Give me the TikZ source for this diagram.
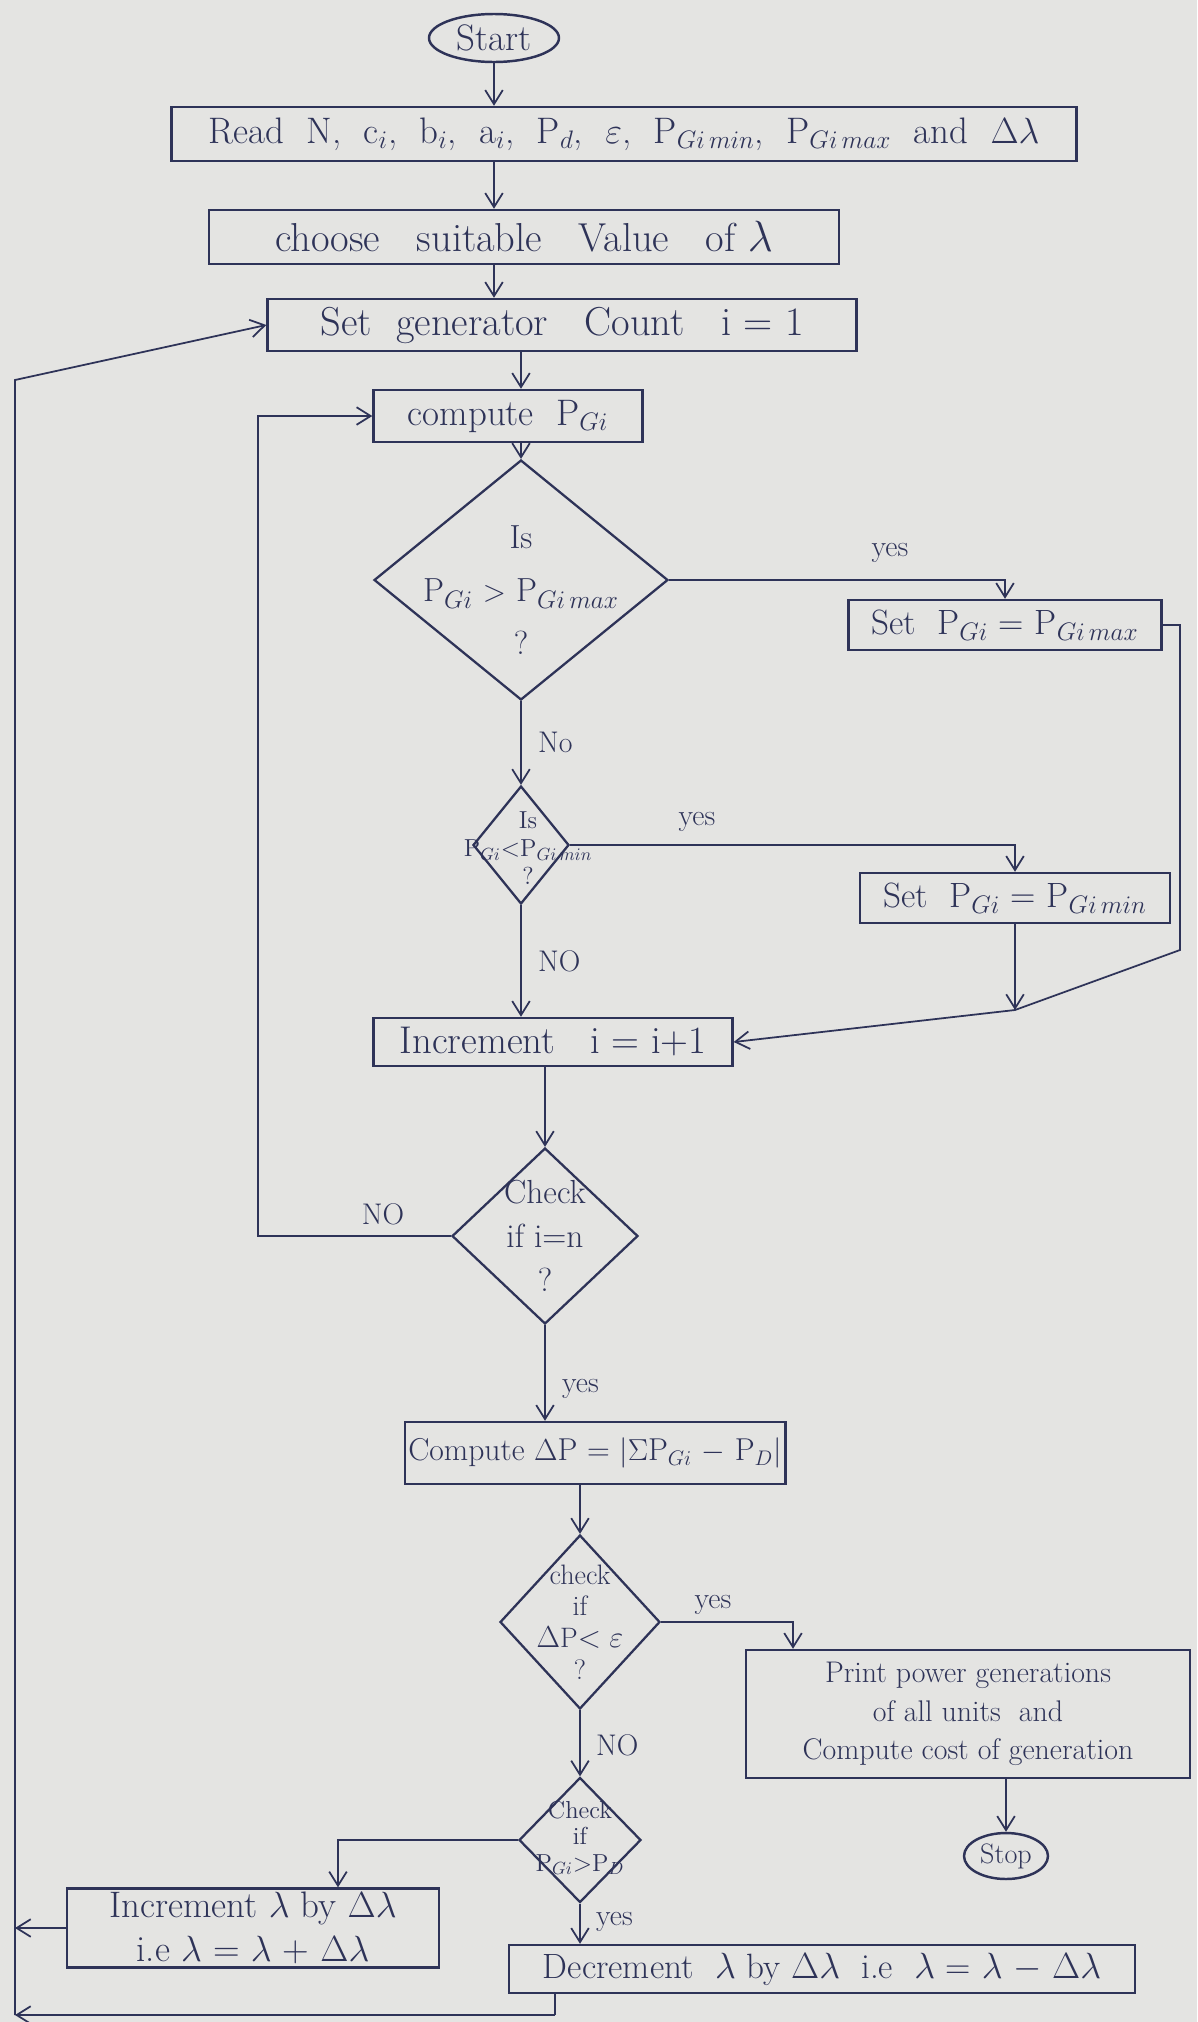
\documentclass[tikz,border=0pt]{standalone}
\usetikzlibrary{shapes.geometric,arrows.meta}
\definecolor{ink}{HTML}{2E3358}
\definecolor{paper}{HTML}{E4E4E2}
\begin{document}
\begin{tikzpicture}[x=0.02cm,y=-0.02cm,
  every node/.style={font=\fontsize{18}{22}\selectfont, text=ink},
  box/.style={draw=ink, rectangle, line width=1.4pt, align=center, inner sep=2pt},
  term/.style={draw=ink, ellipse, line width=1.4pt, inner sep=1pt},
  dia/.style={draw=ink, diamond, line width=1.3pt, inner sep=0pt},
  dtext/.style={align=center},
  big/.style={font=\fontsize{21}{25}\selectfont},
  lbl/.style={font=\fontsize{17}{20}\selectfont},
  arr/.style={draw=ink, line width=1pt, -{Straight Barb[length=8pt,width=10pt]}},
  ln/.style={draw=ink, line width=1pt}]
\fill[paper] (0,0) rectangle (1197,2022);
\useasboundingbox (0,0) rectangle (1197,2022);

% nodes
\node[term, minimum width=2.6cm, minimum height=0.96cm, big] (start) at (494,38) {Start};
\node[box, minimum width=18.1cm, minimum height=1.08cm, big] (read) at (624,134)
  {Read \ N, \ c$_i$, \ b$_i$, \ a$_i$, \ P$_d$, \ $\varepsilon$, \ P$_{Gi\,min}$, \ P$_{Gi\,max}$ \ and \ $\Delta\lambda$};
\node[box, minimum width=12.6cm, minimum height=1.08cm, font=\fontsize{23}{27}\selectfont] (choose) at (524,237)
  {choose \ \ suitable \ \ Value \ \ of $\lambda$};
\node[box, minimum width=11.78cm, minimum height=1.04cm, font=\fontsize{23}{27}\selectfont] (setgen) at (562,325)
  {Set \ generator \ \ Count \ \ i = 1};
\node[box, minimum width=5.38cm, minimum height=1.04cm, big] (comp) at (508,416)
  {compute \ P$_{Gi}$};
\node[dia, minimum width=5.88cm, minimum height=4.8cm] (d1) at (521,580) {};
\node[dtext, font=\fontsize{19}{30}\selectfont] (d1t) at (521,590)
  {Is\\ P$_{Gi}$ $>$ P$_{Gi\,max}$\\ ?};
\node[box, minimum width=6.26cm, minimum height=1.0cm, font=\fontsize{20}{24}\selectfont] (setmax) at (1005,625)
  {Set \ P$_{Gi}$ = P$_{Gi\,max}$};
\node[dia, minimum width=1.92cm, minimum height=2.36cm] (d2) at (521,845) {};
\node[dtext, font=\fontsize{14}{16}\selectfont] (d2t) at (528,848)
  {Is\\ P$_{Gi}$$<$P$_{Gi\,min}$\\ ?};
\node[box, minimum width=6.2cm, minimum height=1.0cm, font=\fontsize{20}{24}\selectfont] (setmin) at (1015,898)
  {Set \ P$_{Gi}$ = P$_{Gi\,min}$};
\node[box, minimum width=7.18cm, minimum height=0.96cm, font=\fontsize{22}{26}\selectfont] (incr) at (553,1042)
  {Increment \ \ i = i+1};
\node[dia, minimum width=3.72cm, minimum height=3.52cm] (d3) at (545,1236) {};
\node[dtext, font=\fontsize{19}{25}\selectfont] (d3t) at (545,1236)
  {Check\\ if i=n\\ ?};
\node[box, minimum width=6.78cm, minimum height=1.24cm] (dp) at (595,1453)
  {Compute $\Delta$P = $|\Sigma$P$_{Gi}$ $-$ P$_D|$};
\node[dia, minimum width=3.2cm, minimum height=3.48cm] (d4) at (580,1622) {};
\node[dtext, font=\fontsize{16}{18}\selectfont] (d4t) at (580,1622)
  {check\\ if\\ $\Delta$P$<\varepsilon$\\ ?};
\node[box, minimum width=8.88cm, minimum height=2.56cm, font=\fontsize{17}{22}\selectfont] (print) at (968,1714)
  {Print power generations\\ of all units \ and\\ Compute cost of generation};
\node[term, minimum width=1.68cm, minimum height=0.92cm, font=\fontsize{16}{18}\selectfont] (stop) at (1006,1856) {Stop};
\node[dia, minimum width=2.44cm, minimum height=2.5cm] (d5) at (580,1840) {};
\node[dtext, font=\fontsize{14}{15}\selectfont] (d5t) at (580,1838)
  {Check\\ if\\ P$_{Gi}$$>$P$_D$};
\node[box, minimum width=7.44cm, minimum height=1.52cm, font=\fontsize{21}{25}\selectfont] (inclam) at (253,1928)
  {Increment $\lambda$ by $\Delta\lambda$\\ i.e $\lambda$ = $\lambda$ + $\Delta\lambda$};
\node[box, minimum width=12.52cm, minimum height=0.96cm, font=\fontsize{20}{24}\selectfont] (dec) at (822,1969)
  {Decrement \ $\lambda$ by $\Delta\lambda$ \ i.e \ $\lambda$ = $\lambda$ $-$ $\Delta\lambda$};

% helper coordinates
\coordinate (r1) at (1180,625);
\coordinate (r2) at (1180,950);
\coordinate (j1) at (1015,1010);
\coordinate (l1) at (258,1236);
\coordinate (p1) at (793,1622);
\coordinate (q1) at (338,1840);
\coordinate (b1) at (555,2015);
\coordinate (bl) at (15,2015);
\coordinate (tl) at (15,380);

% connectors
\draw[arr] (start.south) -- (start.south |- read.north);
\draw[arr] (start.south |- read.south) -- (start.south |- choose.north);
\draw[arr] (start.south |- choose.south) -- (start.south |- setgen.north);
\draw[arr] (d1.north |- setgen.south) -- (d1.north |- comp.north);
\draw[arr] (d1.north |- comp.south) -- (d1.north);
\draw[arr] (d1.east) -| (setmax.north);
\draw[arr] (d1.south) -- (d2.north);
\draw[arr] (d2.east) -| (setmin.north);
\draw[arr] (d2.south) -- (d2.south |- incr.north);
\draw[arr] (setmax.east) -- (r1) -- (r2) -- (j1) -- (incr.east);
\draw[arr] (setmin.south) -- (j1);
\draw[arr] (d3.north |- incr.south) -- (d3.north);
\draw[arr] (d3.west) -- (l1) |- (comp.west);
\draw[arr] (d3.south) -- (d3.south |- dp.north);
\draw[arr] (d4.north |- dp.south) -- (d4.north);
\draw[arr] (d4.east) -- (p1) -- (p1 |- print.north);
\draw[arr] (stop.north |- print.south) -- (stop.north);
\draw[arr] (d4.south) -- (d5.north);
\draw[arr] (d5.west) -- (q1) -- (q1 |- inclam.north);
\draw[arr] (inclam.west) -- (inclam.west -| bl);
\draw[arr] (d5.south) -- (d5.south |- dec.north);
\draw[ln] (dec.south -| b1) -- (b1);
\draw[arr] (b1) -- (bl);
\draw[arr] (bl) -- (tl) -- (setgen.west);

% labels
\node[lbl] (y1) at (890,553) {yes};
\node[lbl, anchor=west] (n1) at (532,742) {No};
\node[lbl] (y2) at (697,822) {yes};
\node[lbl, anchor=west] (n2) at (532,961) {NO};
\node[lbl] (n3) at (383,1214) {NO};
\node[lbl, anchor=west] (y3) at (556,1389) {yes};
\node[lbl] (y4) at (713,1605) {yes};
\node[lbl, anchor=west] (n4) at (590,1745) {NO};
\node[lbl, anchor=west] (y5) at (590,1922) {yes};
\end{tikzpicture}
\end{document}
